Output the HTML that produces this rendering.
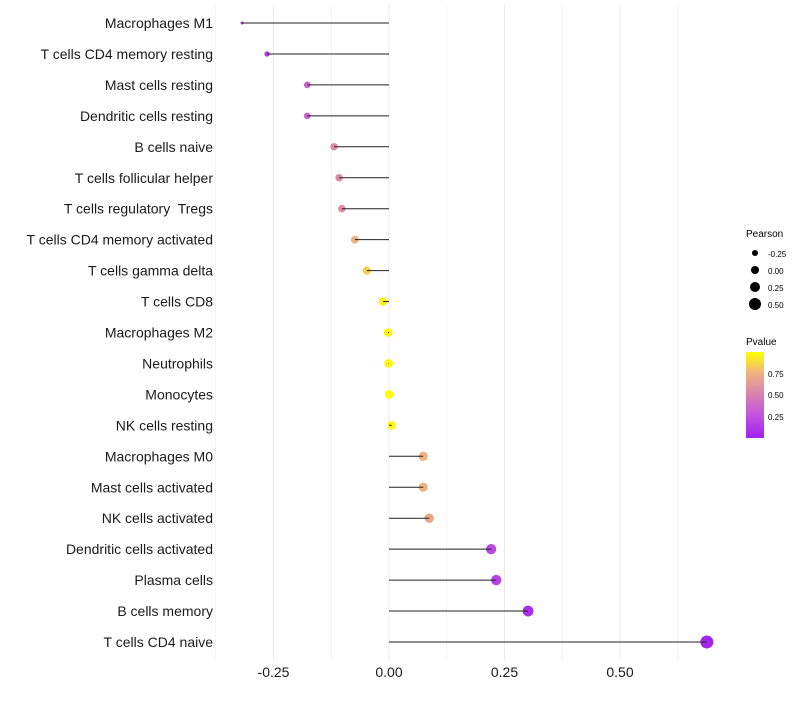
<!DOCTYPE html>
<html><head><meta charset="utf-8"><style>
body{margin:0;background:#fff;}
svg text{font-family:"Liberation Sans",sans-serif;white-space:pre;}
</style></head><body>
<svg id="c" width="800" height="700" xmlns="http://www.w3.org/2000/svg">
<defs><linearGradient id="pg" x1="0" y1="1" x2="0" y2="0">
<stop offset="0" stop-color="#a020f0"/><stop offset="0.25" stop-color="#c050e0"/>
<stop offset="0.5" stop-color="#d880b0"/><stop offset="0.75" stop-color="#f0b080"/>
<stop offset="1" stop-color="#ffff00"/></linearGradient></defs>
<g id="grid"></g><g id="dots"></g><g id="stems"></g><g id="labels"></g><g id="xticks"></g>
<g>
<text x="746" y="237" font-size="10">Pearson</text>
<circle cx="755" cy="253" r="3" fill="#000"/><text x="768" y="257" font-size="8">-0.25</text>
<circle cx="755" cy="270" r="4" fill="#000"/><text x="768" y="274" font-size="8">0.00</text>
<circle cx="755" cy="287" r="5" fill="#000"/><text x="768" y="291" font-size="8">0.25</text>
<circle cx="755" cy="304" r="6" fill="#000"/><text x="768" y="308" font-size="8">0.50</text>
</g>
<g>
<text x="746" y="345" font-size="10">Pvalue</text>
<rect x="746" y="352" width="18" height="86" fill="url(#pg)"/>
<text x="768" y="377" font-size="8">0.75</text>
<text x="768" y="398" font-size="8">0.50</text>
<text x="768" y="420" font-size="8">0.25</text>
</g>
</svg>
<script>
const cells=["Macrophages M1","T cells CD4 memory resting","Mast cells resting","Dendritic cells resting","B cells naive","T cells follicular helper","T cells regulatory  Tregs","T cells CD4 memory activated","T cells gamma delta","T cells CD8","Macrophages M2","Neutrophils","Monocytes","NK cells resting","Macrophages M0","Mast cells activated","NK cells activated","Dendritic cells activated","Plasma cells","B cells memory","T cells CD4 naive"];
const pearson=[-0.318,-0.264,-0.177,-0.177,-0.119,-0.108,-0.102,-0.074,-0.048,-0.013,-0.002,-0.001,0,0.006,0.074,0.074,0.087,0.221,0.232,0.301,0.688];
const pvalue=[0.05,0.15,0.35,0.35,0.55,0.55,0.58,0.75,0.85,0.95,0.98,0.99,1.0,0.97,0.75,0.75,0.7,0.2,0.18,0.08,0.03];
const xTicks=[-0.25,0,0.25,0.5];
const xTickLabels=["-0.25","0.00","0.25","0.50"];
const NS="http://www.w3.org/2000/svg";
const X=v=>389+v*462;
const Y=i=>23+i*30.95;
const pmin=Math.min(...pearson),pmax=Math.max(...pearson);
const R=v=>1.5+5*Math.sqrt((v-pmin)/(pmax-pmin));
function col(p){const s=[[0,[160,32,240]],[0.25,[192,80,224]],[0.5,[216,128,176]],[0.75,[240,176,128]],[1,[255,255,0]]];
for(let k=0;k<s.length-1;k++){if(p<=s[k+1][0]){const t=(p-s[k][0])/(s[k+1][0]-s[k][0]);const c=s[k][1].map((a,j)=>Math.round(a+(s[k+1][1][j]-a)*t));return `rgb(${c})`;}}return "rgb(255,255,0)";}
function mk(t,a,p){const e=document.createElementNS(NS,t);for(const k in a)e.setAttribute(k,a[k]);document.getElementById(p).appendChild(e);return e;}
[-0.375,-0.25,-0.125,0,0.125,0.25,0.375,0.5,0.625].forEach(v=>{
const g=mk("line",{x1:X(v),x2:X(v),y1:5,y2:660,stroke:"#ebebeb","stroke-width":Number.isInteger(v*4)?1:0.6},"grid");

});
cells.forEach((c,i)=>{
const y=Y(i);
const d=mk("circle",{cx:X(pearson[i]),cy:y,r:R(pearson[i]),fill:col(pvalue[i])},"dots");


const l=mk("line",{x1:X(0),x2:X(pearson[i]),y1:y,y2:y,stroke:"#222","stroke-width":1},"stems");


const t=mk("text",{x:213,y:y+5,"text-anchor":"end","font-size":14,fill:"#1a1a1a"},"labels");
t.textContent=c;

});
xTicks.forEach((v,i)=>{
const t=mk("text",{x:X(v),y:677,"text-anchor":"middle","font-size":14,fill:"#1a1a1a"},"xticks");
t.textContent=xTickLabels[i];

});
</script>
</body></html>
